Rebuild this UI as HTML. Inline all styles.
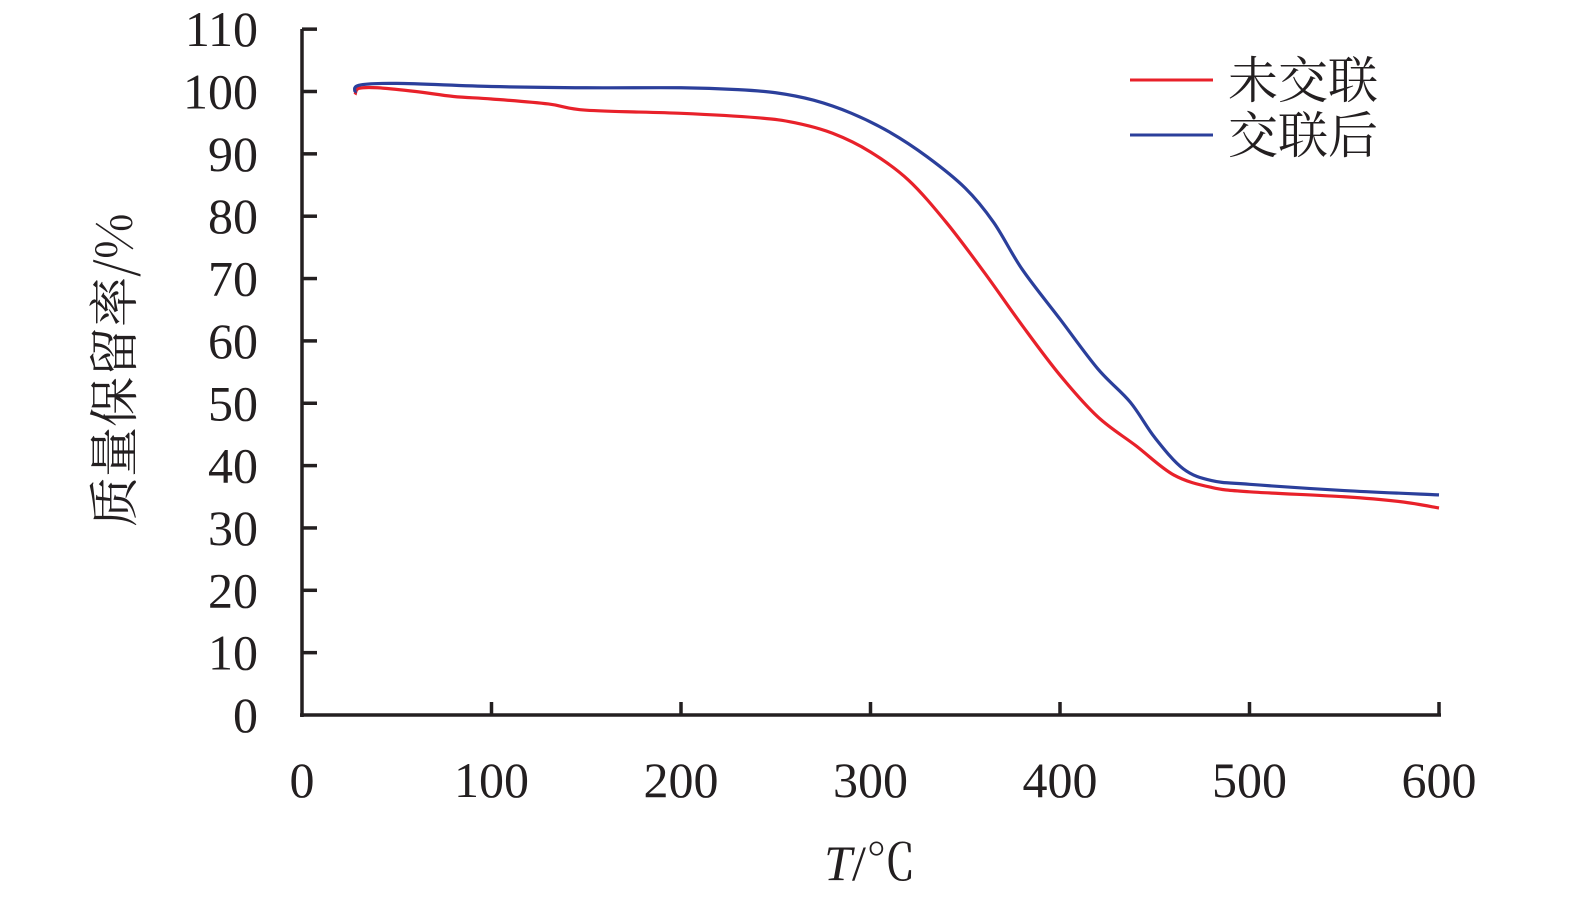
<!DOCTYPE html>
<html><head><meta charset="utf-8"><style>
html,body{margin:0;padding:0;background:#fff;}
svg{display:block}
text{fill:#231f20}
.n{font-family:"Liberation Serif","Times New Roman",serif}
.c{font-family:"Noto Serif CJK SC",serif}
</style></head><body>
<svg id="s" width="1575" height="904" viewBox="0 0 1575 904" xmlns="http://www.w3.org/2000/svg">
<g stroke="#231f20" stroke-width="3.5" fill="none">
<line x1="302" y1="29" x2="302" y2="717"/>
<line x1="300" y1="715" x2="1441" y2="715"/>
</g>
<g id="ticks" stroke="#231f20" stroke-width="3.5"></g>
<g id="lbl" font-size="50" class="n"></g>
<path id="red" fill="none" stroke="#e8212a" stroke-width="3.2"/>
<path id="blue" fill="none" stroke="#2b3f9b" stroke-width="3.2"/>
<line x1="1130" y1="80" x2="1213" y2="80" stroke="#e8212a" stroke-width="3"/>
<line x1="1130" y1="135" x2="1213" y2="135" stroke="#2b3f9b" stroke-width="3"/>
<text x="1228" y="98" font-size="50" class="c">未交联</text>
<text x="1228" y="153" font-size="50" class="c">交联后</text>
<text x="870" y="880" font-size="50" text-anchor="middle" class="n"><tspan font-style="italic">T</tspan>/<tspan class="c">℃</tspan></text>
<text transform="translate(132,370) rotate(-90)" font-size="50" text-anchor="middle" class="c">质量保留率/%</text>
</svg>
<script>
var X=t=>302+t*1.895, Y=v=>715-v*6.235;
var ns="http://www.w3.org/2000/svg",tk=document.getElementById('ticks'),lb=document.getElementById('lbl');
function el(p,tag,a,txt){var e=document.createElementNS(ns,tag);for(var k in a)e.setAttribute(k,a[k]);if(txt!=null)e.textContent=txt;p.appendChild(e);}
for(var v=0;v<=110;v+=10){var y=Y(v);if(v>0)el(tk,'line',{x1:302,x2:317,y1:y,y2:y});el(lb,'text',{x:258,y:y+17,'text-anchor':'end'},v);}
for(var t=0;t<=600;t+=100){var x=X(t);if(t>0)el(tk,'line',{x1:x,x2:x,y1:715,y2:702});el(lb,'text',{x:x,y:797,'text-anchor':'middle'},t);}
function path(d){var p=d.map(a=>[X(a[0]),Y(a[1])]);var s='M'+p[0][0]+','+p[0][1];
for(var i=0;i<p.length-1;i++){var p0=p[i-1]||p[i],p1=p[i],p2=p[i+1],p3=p[i+2]||p2;
s+=' C'+(p1[0]+(p2[0]-p0[0])/6)+','+(p1[1]+(p2[1]-p0[1])/6)+' '+(p2[0]-(p3[0]-p1[0])/6)+','+(p2[1]-(p3[1]-p1[1])/6)+' '+p2[0]+','+p2[1];}return s;}
document.getElementById('red').setAttribute('d',path([[28,99.5],[30,100.5],[40,100.6],[60,100],[80,99.2],[100,98.8],[130,98],[150,97],[200,96.5],[240,95.8],[260,95],[280,93.3],[300,90.3],[320,85.8],[340,79],[360,71],[380,62.5],[400,54.5],[420,47.8],[440,43.2],[460,38.5],[480,36.5],[500,35.8],[550,35],[580,34.2],[600,33.2]]));
document.getElementById('blue').setAttribute('d',path([[28,99.8],[30,101],[50,101.3],[100,100.8],[150,100.6],[200,100.6],[230,100.3],[250,99.8],[270,98.6],[290,96.5],[310,93.5],[330,89.5],[350,84.5],[365,79],[380,71.5],[400,63.5],[420,55.5],[437,50.2],[450,44.5],[465,39.5],[480,37.6],[500,37],[550,36],[600,35.3]]));
</script>
</body></html>
